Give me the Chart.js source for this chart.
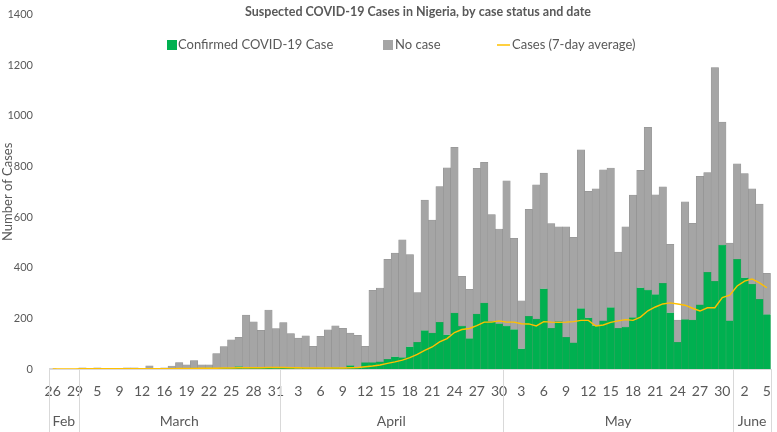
<!DOCTYPE html>
<html lang="en">
<head>
  <meta charset="UTF-8">
  <title>Suspected COVID-19 Cases in Nigeria</title>
  <style>
    body { margin: 0; background: #fff; }
    #wrap { width: 777px; height: 432px; position: relative; }
  </style>
</head>
<body>
  <div id="wrap"><canvas id="casesChart"></canvas></div>

  <script src="https://cdn.jsdelivr.net/npm/chart.js"></script>
  <script>
    // day-of-month labels, Feb 26 -> June 5 (a few early March days are missing in the source)
    const dayLabels = [
      '26','27','28','29',
      '2','4','5','6','7','9','10','11','12','13','14','16','17','18','19','20','21','22','23','24','25','26','27','28','29','30','31',
      '1','2','3','4','5','6','7','8','9','10','11','12','13','14','15','16','17','18','19','20','21','22','23','24','25','26','27','28','29','30',
      '1','2','3','4','5','6','7','8','9','10','11','12','13','14','15','16','17','18','19','20','21','22','23','24','25','26','27','28','29','30','31',
      '1','2','3','4','5'
    ];
    const monthNames = ['Feb', 'March', 'April', 'May', 'June'];
    const monthStart = [0, 4, 31, 61, 92];

    const confirmed = [
      0,0,0,0,0,0,0,0,0,0,0,0,0,0,0,1,1,0,3,4,2,5,3,4,5,10,4,3,5,7,4,
      3,5,2,4,3,5,4,6,3,14,5,25,25,28,38,48,45,88,105,152,142,184,135,221,170,120,217,260,187,178,
      170,156,80,208,197,317,161,187,125,103,239,202,171,190,243,161,166,203,321,312,294,338,222,105,195,193,253,382,346,490,190,
      433,360,334,275,215
    ];
    const noCase = [
      1,0,0,0,5,0,5,1,0,0,5,5,1,13,0,4,11,25,13,29,14,11,58,85,110,115,209,183,148,226,156,
      180,135,120,127,87,124,151,165,158,128,128,65,286,292,395,410,465,364,197,515,446,537,660,655,196,195,576,556,423,375,
      573,360,189,423,531,457,413,375,437,417,627,500,541,597,551,301,396,484,464,643,394,382,270,88,465,382,508,394,845,485,307,
      377,412,378,376,163
    ];
    const avg7 = [
      0,0,0,0,1,1,1,1,1,1,1,1,1,1,1,1,1,2,2,2,3,3,3,4,4,5,5,5,5,6,6,
      6,5,5,4,4,4,4,4,4,5,6,9,12,16,22,28,35,45,58,74,87,107,120,144,156,160,171,185,185,190,
      185,185,179,178,170,187,185,184,185,187,192,192,170,174,184,190,195,192,205,230,245,257,261,257,252,240,229,242,242,282,292,
      328,347,356,340,321
    ];

    const textCol = '#595959';
    const fontFam = 'Lato, "Liberation Sans", sans-serif';

    // title, legend and the month row under the day labels
    const decorations = {
      id: 'decorations',
      afterDraw(chart) {
        const ctx = chart.ctx;
        const x = chart.scales.x;
        const area = chart.chartArea;
        const half = (x.getPixelForValue(1) - x.getPixelForValue(0)) / 2;
        ctx.save();

        // month separators + names
        ctx.strokeStyle = '#d9d9d9';
        ctx.lineWidth = 1;
        const edges = monthStart.map(i => x.getPixelForValue(i) - half);
        edges.push(x.getPixelForValue(dayLabels.length - 1) + half);
        edges.forEach(e => {
          ctx.beginPath();
          ctx.moveTo(Math.round(e) + 0.5, area.bottom);
          ctx.lineTo(Math.round(e) + 0.5, 432);
          ctx.stroke();
        });
        ctx.fillStyle = textCol;
        ctx.font = '14px ' + fontFam;
        ctx.textAlign = 'center';
        ctx.textBaseline = 'middle';
        monthNames.forEach((m, k) => {
          ctx.fillText(m, (edges[k] + edges[k + 1]) / 2, 421);
        });

        // title
        ctx.font = 'bold 12.5px ' + fontFam;
        ctx.fillText('Suspected COVID-19 Cases in Nigeria, by case status and date', 418, 12);

        // legend
        ctx.font = '13px ' + fontFam;
        ctx.textAlign = 'left';
        const ly = 45;
        ctx.fillStyle = '#00b050';
        ctx.fillRect(167, ly - 5, 10, 10);
        ctx.fillStyle = textCol;
        ctx.fillText('Confirmed COVID-19 Case', 178, ly);
        ctx.fillStyle = '#a5a5a5';
        ctx.fillRect(383, ly - 5, 10, 10);
        ctx.fillStyle = textCol;
        ctx.fillText('No case', 395, ly);
        ctx.strokeStyle = '#ffc000';
        ctx.lineWidth = 1.5;
        ctx.beginPath();
        ctx.moveTo(497, ly);
        ctx.lineTo(510, ly);
        ctx.stroke();
        ctx.fillText('Cases (7-day average)', 512, ly);
        ctx.restore();
      }
    };

    new Chart(document.getElementById('casesChart'), {
      type: 'bar',
      data: {
        labels: dayLabels,
        datasets: [
          {
            type: 'line',
            label: 'Cases (7-day average)',
            data: avg7,
            borderColor: '#ffc000',
            borderWidth: 1.4,
            pointRadius: 0,
            tension: 0,
            order: 0
          },
          {
            label: 'Confirmed COVID-19 Case',
            data: confirmed,
            backgroundColor: '#00b050',
            borderColor: '#2f9e5a',
            borderWidth: 0.5,
            barPercentage: 1,
            categoryPercentage: 1,
            stack: 's',
            order: 1
          },
          {
            label: 'No case',
            data: noCase,
            backgroundColor: '#a5a5a5',
            borderColor: '#8f8f8f',
            borderWidth: 0.5,
            barPercentage: 1,
            categoryPercentage: 1,
            stack: 's',
            order: 1
          }
        ]
      },
      options: {
        responsive: true,
        maintainAspectRatio: false,
        animation: false,
        layout: { padding: { top: 5, right: 3, left: 0, bottom: 0 } },
        plugins: {
          legend: { display: false },
          title: { display: false },
          tooltip: { enabled: false }
        },
        scales: {
          x: {
            stacked: true,
            grid: { display: false },
            border: { color: '#d9d9d9' },
            ticks: {
              autoSkip: false,
              maxRotation: 0,
              padding: 6,
              color: textCol,
              font: { family: fontFam, size: 14 },
              callback: (v, i) => (i % 3 === 0 ? dayLabels[i] : '')
            },
            afterFit: s => { s.height = 63; }
          },
          y: {
            stacked: true,
            min: 0,
            max: 1400,
            grid: { display: false },
            border: { display: false },
            ticks: {
              stepSize: 200,
              color: textCol,
              font: { family: fontFam, size: 11 },
              padding: 8,
              callback: v => String(v)
            },
            title: {
              display: true,
              text: 'Number of Cases',
              color: textCol,
              font: { family: fontFam, size: 13 },
              padding: 0
            },
            afterFit: s => { s.width = 49; }
          }
        }
      },
      plugins: [decorations]
    });
  </script>
</body>
</html>
